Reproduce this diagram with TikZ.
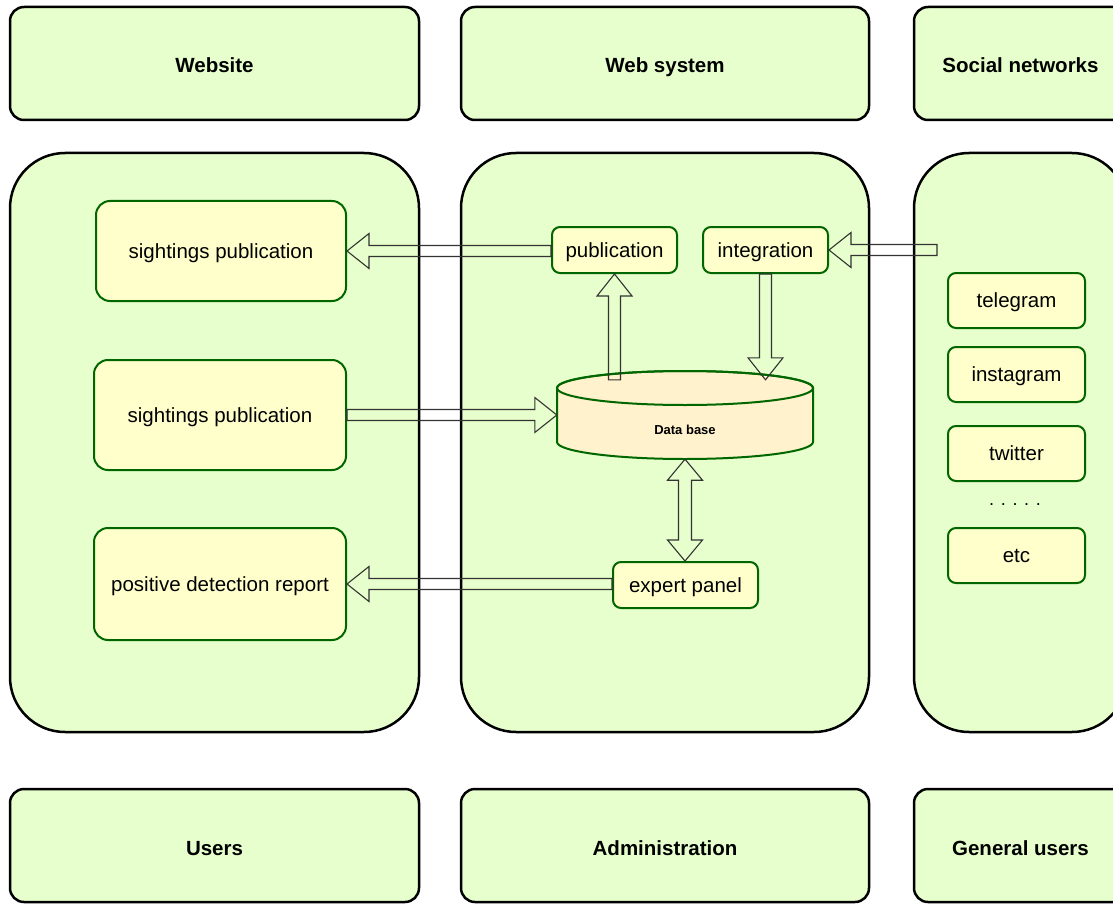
\documentclass[tikz,border=0pt]{standalone}
\usepackage{fontspec}
\setmainfont{Liberation Sans}
\usetikzlibrary{calc}
\definecolor{panelfill}{HTML}{E6FFCC}
\definecolor{boxfill}{HTML}{FFFFCC}
\definecolor{dbfill}{HTML}{FFF2CC}
\definecolor{boxline}{HTML}{006600}
\definecolor{arrowline}{HTML}{333333}
\tikzset{
  panel/.style={draw=black, line width=2.5pt, fill=panelfill, rounded corners=55pt, inner sep=0pt},
  header/.style={draw=black, line width=2.5pt, fill=panelfill, rounded corners=14pt, inner sep=0pt,
    font=\fontsize{20.5}{24}\selectfont\bfseries, text height=19pt, text depth=0pt},
  item/.style={draw=boxline, line width=2pt, fill=boxfill, rounded corners=14pt, inner sep=0pt,
    font=\fontsize{20.5}{24}\selectfont, text height=14pt, text depth=0pt},
  smallitem/.style={item, rounded corners=8pt},
  barrow/.style={draw=arrowline, line width=1.1pt, line join=miter},
  dbshape/.style={draw=boxline, line width=2pt, fill=dbfill}
}
% horizontal block arrow: tail #1, tip #2
\newcommand{\harrow}[2]{%
  \draw[barrow] let \p1=(#1), \p2=(#2), \n1={(\x2-\x1)/abs(\x2-\x1)} in
  (\x1,\y2+5.5pt) -- ({\x2-(\n1)*22pt},\y2+5.5pt) -- ({\x2-(\n1)*22pt},\y2+17.5pt) -- (\x2,\y2)
  -- ({\x2-(\n1)*22pt},\y2-17.5pt) -- ({\x2-(\n1)*22pt},\y2-5.5pt) -- (\x1,\y2-5.5pt) -- cycle;}
% vertical block arrow: tail #1, tip #2
\newcommand{\varrow}[2]{%
  \draw[barrow] let \p1=(#1), \p2=(#2), \n1={(\y2-\y1)/abs(\y2-\y1)} in
  (\x2+6pt,\y1) -- (\x2+6pt,{\y2-(\n1)*22pt}) -- (\x2+17.5pt,{\y2-(\n1)*22pt}) -- (\x2,\y2)
  -- (\x2-17.5pt,{\y2-(\n1)*22pt}) -- (\x2-6pt,{\y2-(\n1)*22pt}) -- (\x2-6pt,\y1) -- cycle;}
% vertical double block arrow between #1 and #2
\newcommand{\dvarrow}[2]{%
  \draw[barrow] let \p1=(#1), \p2=(#2), \n1={(\y2-\y1)/abs(\y2-\y1)} in
  (\x1,\y1) -- (\x1+17.5pt,{\y1+(\n1)*21pt}) -- (\x1+6.5pt,{\y1+(\n1)*21pt})
  -- (\x1+6.5pt,{\y2-(\n1)*21pt}) -- (\x1+17.5pt,{\y2-(\n1)*21pt}) -- (\x1,\y2)
  -- (\x1-17.5pt,{\y2-(\n1)*21pt}) -- (\x1-6.5pt,{\y2-(\n1)*21pt})
  -- (\x1-6.5pt,{\y1+(\n1)*21pt}) -- (\x1-17.5pt,{\y1+(\n1)*21pt}) -- cycle;}
\begin{document}
\begin{tikzpicture}[x=1pt,y=-1pt]
\useasboundingbox (0,0) rectangle (1113,904);
\clip (0,0) rectangle (1113,904);
\fill[white] (0,0) rectangle (1113,904);

% headers
\node[header, minimum width=409pt, minimum height=113pt] (hweb) at (214.5,63.5) {Website};
\node[header, minimum width=408pt, minimum height=113pt] (hsys) at (665,63.5) {Web system};
\node[header, minimum width=213pt, minimum height=113pt] (hsoc) at (1020.5,63.5) {Social networks};

% panels
\node[panel, minimum width=409pt, minimum height=579pt] (pweb) at (214.5,442.5) {};
\node[panel, minimum width=408pt, minimum height=579pt] (psys) at (665,442.5) {};
\node[panel, minimum width=213pt, minimum height=579pt] (psoc) at (1020.5,442.5) {};

% footers
\node[header, minimum width=409pt, minimum height=113pt] (fusers) at (214.5,845.5) {Users};
\node[header, minimum width=408pt, minimum height=113pt] (fadmin) at (665,845.5) {Administration};
\node[header, minimum width=213pt, minimum height=113pt] (fgen) at (1020.5,845.5) {General users};

% website items
\node[item, minimum width=250pt, minimum height=100pt] (sight1) at (221,251) {sightings publication};
\node[item, minimum width=252pt, minimum height=110pt] (sight2) at (220,415) {sightings publication};
\node[item, minimum width=252pt, minimum height=112pt] (pos) at (220,584) {positive detection report};

% web system items
\node[smallitem, minimum width=125pt, minimum height=46pt] (pub) at (614.5,250) {publication};
\node[smallitem, minimum width=125pt, minimum height=46pt] (integ) at (765.5,250) {integration};
\node[smallitem, minimum width=145pt, minimum height=46pt] (expert) at (685.5,585) {expert panel};

% database cylinder
\node[inner sep=0pt, minimum width=256pt, minimum height=88pt] (db) at (685,415) {};
\path[dbshape] (557,388) -- (557,442) arc[start angle=180, end angle=360, x radius=128pt, y radius=17pt]
  -- (813,388) arc[start angle=0, end angle=180, x radius=128pt, y radius=17pt] -- cycle;
\draw[boxline, line width=2pt] (685,388) ellipse[x radius=128pt, y radius=17pt];
\node[font=\fontsize{13}{15}\selectfont\bfseries, inner sep=0pt] (dblabel) at (685,430) {Data base};

% social items
\node[smallitem, minimum width=137pt, minimum height=55pt] (tg) at (1016.5,300.5) {telegram};
\node[smallitem, minimum width=137pt, minimum height=55pt] (ig) at (1016.5,374.5) {instagram};
\node[smallitem, minimum width=137pt, minimum height=55pt] (tw) at (1016.5,453.5) {twitter};
\node[font=\fontsize{18}{20}\selectfont, inner sep=0pt] (dots) at (1015,505) {. . . . .};
\node[smallitem, minimum width=137pt, minimum height=55pt] (etc) at (1016.5,555.5) {etc};

% arrows
\coordinate (snsrc) at (937,250);
\harrow{pub.west}{sight1.east}
\harrow{snsrc}{integ.east}
\varrow{[yshift=-9pt]db.north -| pub.south}{pub.south}
\varrow{integ.south}{[yshift=-9pt]db.north -| integ.south}
\harrow{sight2.east}{db.west}
\dvarrow{db.south}{expert.north}
\harrow{expert.west}{pos.east}
\end{tikzpicture}
\end{document}
